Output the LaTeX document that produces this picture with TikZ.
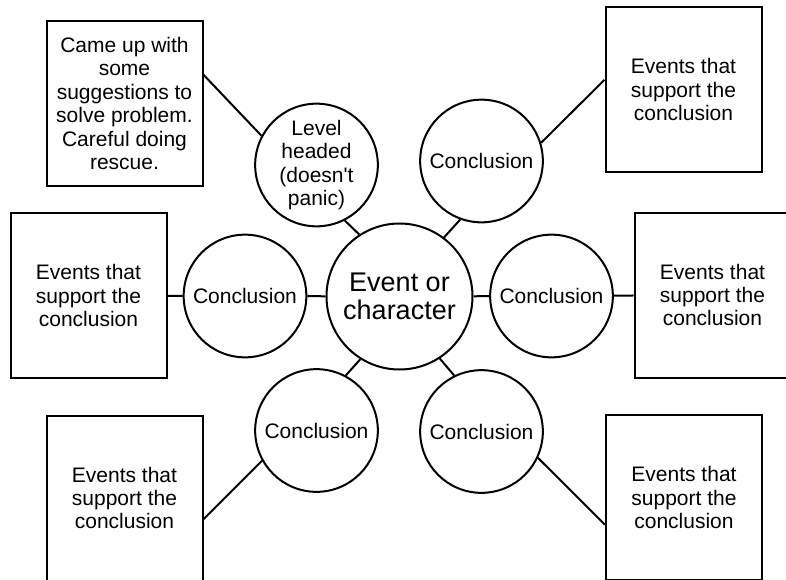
\documentclass[tikz,border=0pt]{standalone}
\usepackage{fontspec}
\setmainfont{Liberation Sans}

\begin{document}
\begin{tikzpicture}[x=0.75pt, y=-0.75pt, line width=1.5pt,
  hub/.style={draw, circle, inner sep=0pt, minimum size=109.5pt, align=center,
    font=\fontsize{20.25}{21.2}\selectfont},
  concl/.style={draw, circle, inner sep=0pt, minimum size=92pt, align=center,
    font=\fontsize{15.75}{17.6}\selectfont},
  evbox/.style={draw, rectangle, inner sep=0pt, minimum width=117pt,
    minimum height=123.75pt, align=center,
    font=\fontsize{15.75}{17.6}\selectfont}]
  \clip (0,0) rectangle (786,579);

  \node[hub] (ev) at (399.5,296.5) {Event or\\character};

  \node[concl] (lvl) at (316.5,165) {Level\\headed\\(doesn\textquotesingle t\\panic)};
  \node[concl] (cTR) at (481.5,161) {Conclusion};
  \node[concl] (cL)  at (245,296)   {Conclusion};
  \node[concl] (cR)  at (551.5,296) {Conclusion};
  \node[concl] (cBL) at (316.5,430.5) {Conclusion};
  \node[concl] (cBR) at (481.5,431.5) {Conclusion};

  \node[evbox] (bTL) at (124.5,103.5) {Came up with\\some\\suggestions to\\solve problem.\\Careful doing\\rescue.};
  \node[evbox] (bTR) at (683.5,89.5)  {Events that\\support the\\conclusion};
  \node[evbox] (bL)  at (88.5,295.5)  {Events that\\support the\\conclusion};
  \node[evbox] (bR)  at (712.5,295)   {Events that\\support the\\conclusion};
  \node[evbox] (bBL) at (124.5,498)   {Events that\\support the\\conclusion};
  \node[evbox] (bBR) at (684,497.5)   {Events that\\support the\\conclusion};

  \draw (lvl.297) -- (ev.123);
  \draw (ev.53) -- (cTR.250);
  \draw (ev) -- (cL);
  \draw (ev) -- (cR);
  \draw (ev.238) -- (cBL.62);
  \draw (ev.303) -- (cBR.116);

  \draw (bTL.20) -- (lvl.152);
  \draw (cTR.17) -- (bTR.173);
  \draw (cL) -- (bL);
  \draw (cR) -- (bR);
  \draw (cBL.209) -- (bBL.345);
  \draw (cBR.335) -- (bBR.199);
\end{tikzpicture}
\end{document}
